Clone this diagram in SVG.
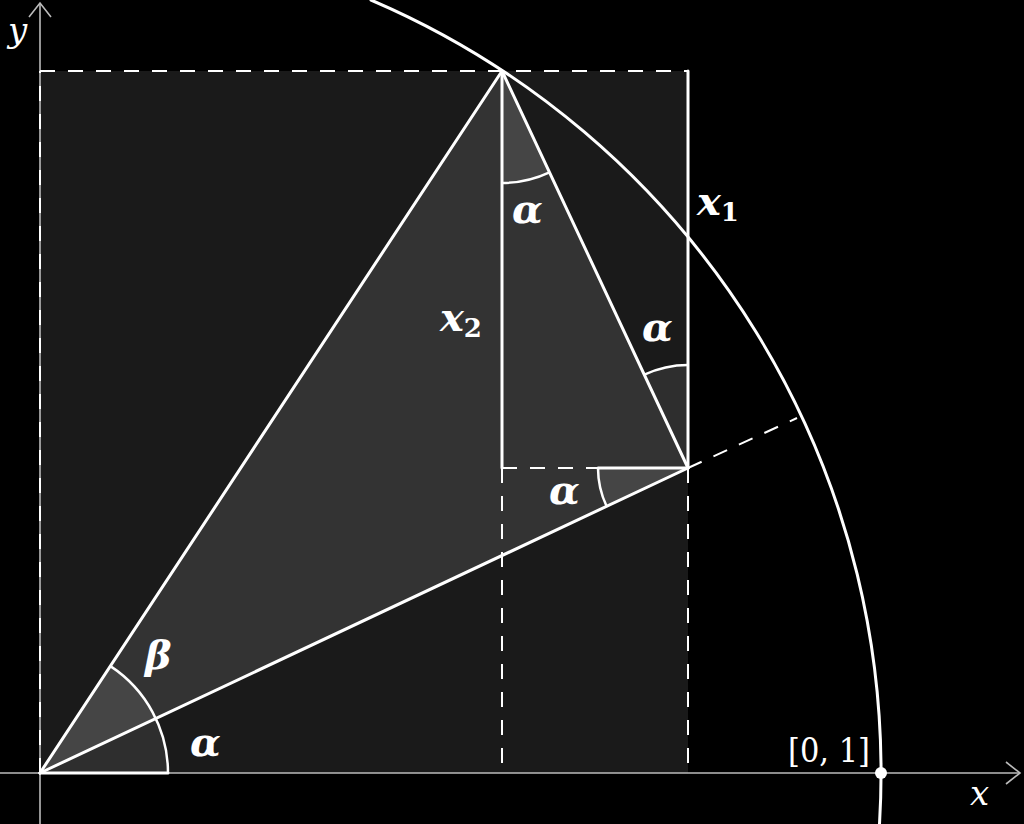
<svg xmlns="http://www.w3.org/2000/svg" width="1024" height="824" viewBox="0 0 1024 824">
<style>
.s{stroke:#fff;stroke-width:3;fill:none;stroke-linecap:round}
.d{stroke:#fff;stroke-width:2;fill:none;stroke-dasharray:15 13}
.ax{stroke:#bbb;stroke-width:1.6;fill:none}
.sec{fill:#fff;fill-opacity:0.09}
.arc{stroke:#fff;stroke-width:2.5;fill:none}
.m{font-family:'DejaVu Serif',serif;font-style:italic;font-weight:bold;fill:#fff;font-size:40px}
.t{font-family:'DejaVu Serif',serif;fill:#fff;font-size:34px}
</style>
<rect width="1024" height="824" fill="#000"/>
<g id="square">
<rect x="40" y="71" width="648" height="702" fill="#1a1a1a"/>
</g>
<g id="triangle">
<polygon points="40,773 502,71 688,468" fill="#333"/>
</g>
<g id="angles">
<path class="sec" d="M40,773 L168,773 A128,128 0 0 0 155.8,718.5 Z"/>
<path class="sec" d="M40,773 L155.8,718.5 A128,128 0 0 0 110.4,666.1 Z"/>
<path class="sec" d="M502,71 L502,183 A112,112 0 0 0 549.5,172.4 Z"/>
<path class="sec" d="M688,468 L688,365 A103,103 0 0 0 644.3,374.7 Z"/>
<path class="sec" d="M688,468 L598,468 A90,90 0 0 0 606.6,506.3 Z"/>
<path class="arc" d="M168,773 A128,128 0 0 0 110.4,666.1"/>
<path class="arc" d="M502,183 A112,112 0 0 0 549.5,172.4"/>
<path class="arc" d="M688,365 A103,103 0 0 0 644.3,374.7"/>
<path class="arc" d="M598,468 A90,90 0 0 0 606.6,506.3"/>
</g>
<g id="axes">
<line class="ax" x1="0" y1="773" x2="1020" y2="773"/>
<polyline class="ax" points="1006,762 1020,773 1006,784"/>
<line class="ax" x1="40" y1="824" x2="40" y2="3"/>
<polyline class="ax" points="29,17 40,3 51,17"/>
</g>
<g id="connectors">
<line class="d" x1="40" y1="71" x2="688" y2="71"/>
<line class="d" x1="40" y1="773" x2="40" y2="71"/>
<line class="d" x1="502" y1="468" x2="598" y2="468"/>
<line class="d" x1="502" y1="468" x2="502" y2="773"/>
<line class="d" x1="688" y1="468" x2="688" y2="773"/>
<line class="d" x1="688" y1="468" x2="797" y2="418"/>
<line class="s" x1="40" y1="773" x2="168" y2="773"/>
<line class="s" x1="40" y1="773" x2="502" y2="71"/>
<line class="s" x1="40" y1="773" x2="688" y2="468"/>
<line class="s" x1="502" y1="71" x2="688" y2="468"/>
<line class="s" x1="502" y1="71" x2="502" y2="468"/>
<line class="s" x1="688" y1="71" x2="688" y2="468"/>
<line class="s" x1="598" y1="468" x2="688" y2="468"/>
<path class="s" d="M371,0 A841,841 0 0 1 879.5,824"/>
<circle cx="881" cy="773" r="6" fill="#fff"/>
</g>
<g id="labels">
<text class="t" x="8" y="42" font-style="italic">y</text>
<text class="t" x="970" y="805" font-style="italic">x</text>
<text class="t" x="788" y="762" textLength="82" lengthAdjust="spacingAndGlyphs">[0, 1]</text>
<text class="m" x="697" y="215">x<tspan font-size="26" dy="6" font-style="normal">1</tspan></text>
<text class="m" x="440" y="331">x<tspan font-size="26" dy="6" font-style="normal">2</tspan></text>
<text class="m" x="512" y="223">α</text>
<text class="m" x="642" y="341">α</text>
<text class="m" x="549" y="504">α</text>
<text class="m" x="190" y="756">α</text>
<text class="m" x="145" y="669">β</text>
</g>
</svg>
